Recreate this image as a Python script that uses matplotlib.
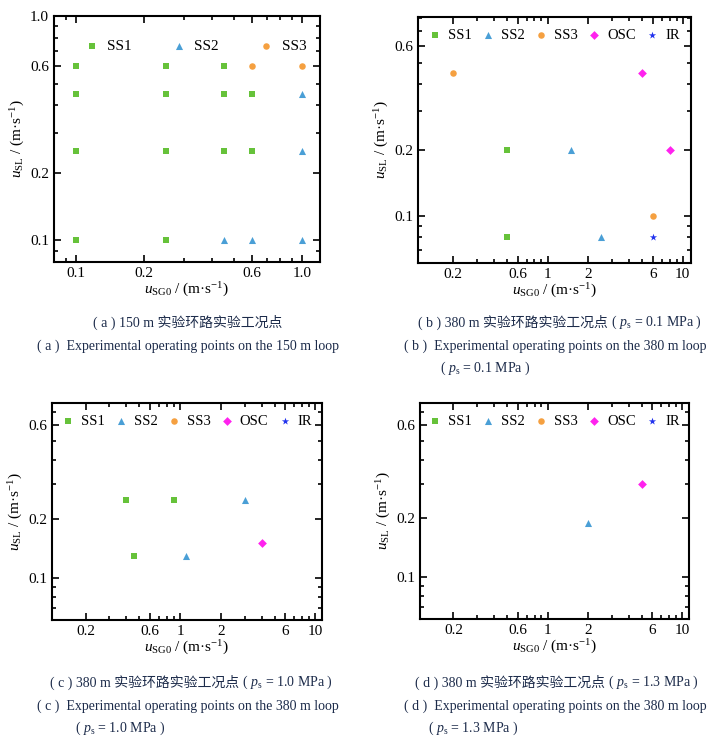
import matplotlib.pyplot as plt
from matplotlib.ticker import FixedLocator, FixedFormatter, LogLocator, NullFormatter
from matplotlib.transforms import offset_copy

plt.rcParams['font.family'] = ['Liberation Serif', 'Noto Sans CJK SC', 'DejaVu Sans']
plt.rcParams['mathtext.fontset'] = 'custom'
plt.rcParams['mathtext.rm'] = 'Liberation Serif'
plt.rcParams['mathtext.it'] = 'Liberation Serif:italic'

# marker styles per regime
styles = {
    'SS1': dict(marker='s', color='#66c23a', s=22),
    'SS2': dict(marker='^', color='#4a9fd6', s=26),
    'SS3': dict(marker='o', color='#f5a040', s=22),
    'OSC': dict(marker='D', color='#ff22ee', s=20),
    'IR': dict(marker='*', color='#2233ee', s=30),
}

# (a) 150 m loop
a_data = {
    'SS1': ([0.1, 0.1, 0.1, 0.1, 0.25, 0.25, 0.25, 0.25, 0.45, 0.45, 0.45, 0.6, 0.6],
            [0.6, 0.45, 0.25, 0.1, 0.6, 0.45, 0.25, 0.1, 0.6, 0.45, 0.25, 0.45, 0.25]),
    'SS2': ([0.45, 0.6, 1.0, 1.0, 1.0], [0.1, 0.1, 0.1, 0.25, 0.45]),
    'SS3': ([0.6, 1.0], [0.6, 0.6]),
}
# (b) 380 m, 0.1 MPa
b_data = {
    'SS1': ([0.5, 0.5], [0.2, 0.08]),
    'SS2': ([1.5, 2.5], [0.2, 0.08]),
    'SS3': ([0.2, 6.0], [0.45, 0.1]),
    'OSC': ([5.0, 8.0], [0.45, 0.2]),
    'IR': ([6.0], [0.08]),
}
# (c) 380 m, 1.0 MPa
c_data = {
    'SS1': ([0.4, 0.9, 0.46], [0.25, 0.25, 0.13]),
    'SS2': ([3.0, 1.1], [0.25, 0.13]),
    'SS3': ([], []),
    'OSC': ([4.0], [0.15]),
    'IR': ([], []),
}
# (d) 380 m, 1.3 MPa
d_data = {
    'SS1': ([], []),
    'SS2': ([2.0], [0.19]),
    'SS3': ([], []),
    'OSC': ([5.0], [0.30]),
    'IR': ([], []),
}

ticks_a = [0.1, 0.2, 0.6, 1.0]
labels_a = ['0.1', '0.2', '0.6', '1.0']
xticks_b = [0.2, 0.6, 1, 2, 6, 10]
xlabels_b = ['0.2', '0.6', '1', '2', '6', '10']
yticks_b = [0.1, 0.2, 0.6]
ylabels_b = ['0.1', '0.2', '0.6']

W, H = 717, 741
fig = plt.figure(figsize=(W / 100, H / 100), dpi=100)


def make_ax(l, r, t, b):
    return fig.add_axes([l / W, 1 - b / H, (r - l) / W, (b - t) / H])


def draw(ax, data, xlim, ylim, xt, xl, yt, yl):
    for name, (xs, ys) in data.items():
        st = styles[name]
        ax.scatter(xs, ys, marker=st['marker'], color=st['color'], s=st['s'],
                   linewidths=0, label=name)
    ax.set_xscale('log')
    ax.set_yscale('log')
    ax.set_xlim(*xlim)
    ax.set_ylim(*ylim)
    for axis, t, lab in ((ax.xaxis, xt, xl), (ax.yaxis, yt, yl)):
        axis.set_major_locator(FixedLocator(t))
        axis.set_major_formatter(FixedFormatter(lab))
        axis.set_minor_locator(LogLocator(subs=range(1, 10)))
        axis.set_minor_formatter(NullFormatter())
    ax.tick_params(which='both', direction='in', top=True, right=True, labelsize=11, width=1.2)
    ax.tick_params(which='major', length=5)
    ax.tick_params(which='minor', length=3)
    for sp in ax.spines.values():
        sp.set_linewidth(1.5)
    ax.set_xlabel(r'$u_{\mathrm{SG0}}$ / (m·s$^{-1}$)', fontsize=11, labelpad=1)
    ax.set_ylabel(r'$u_{\mathrm{SL}}$ / (m·s$^{-1}$)', fontsize=11, labelpad=2)


ax_a = make_ax(54, 320, 16, 262)
draw(ax_a, a_data, (0.08, 1.2), (0.08, 1.0), ticks_a, labels_a, ticks_a, labels_a)
ax_a.legend(loc='upper right', ncol=3, frameon=False, fontsize=11,
            handletextpad=0.4, columnspacing=2.5, bbox_to_anchor=(1.0, 0.96), handlelength=1.2)

ax_b = make_ax(418, 691, 17, 263)
draw(ax_b, b_data, (0.11, 11.5), (0.061, 0.81), xticks_b, xlabels_b, yticks_b, ylabels_b)
ax_c = make_ax(52, 322, 403, 620)
draw(ax_c, c_data, (0.113, 11.2), (0.061, 0.78), xticks_b, xlabels_b, yticks_b, ylabels_b)
ax_d = make_ax(420, 689, 403, 619)
draw(ax_d, d_data, (0.113, 11.2), (0.061, 0.78), xticks_b, xlabels_b, yticks_b, ylabels_b)
for ax in (ax_b, ax_c, ax_d):
    ax.legend(loc='upper center', ncol=5, frameon=False, fontsize=10.5,
              handletextpad=0.5, columnspacing=0.7, borderaxespad=0.4,
              handlelength=0.8)

cap = dict(fontsize=10, color='#1c2b4a', va='center')
fig.canvas.draw()
renderer = fig.canvas.get_renderer()


def caption(x, y, cn, tail):
    # Chinese part as plain text, pressure part with mathtext right after it
    t = fig.text(x / W, 1 - y / H, cn, ha='left', **cap)
    w = t.get_window_extent(renderer).width
    tr = offset_copy(fig.transFigure, fig=fig, x=w, y=0, units='dots')
    fig.text(x / W, 1 - y / H, tail, ha='left', transform=tr, **cap)


fig.text(188 / W, 1 - 322 / H, '( a ) 150 m 实验环路实验工况点', ha='center', **cap)
fig.text(188 / W, 1 - 346 / H, '( a )  Experimental operating points on the 150 m loop', ha='center', **cap)
caption(418, 322, '( b ) 380 m 实验环路实验工况点', r' ( $p_{\mathrm{s}}$ = 0.1 MPa )')
fig.text(555 / W, 1 - 346 / H, '( b )  Experimental operating points on the 380 m loop', ha='center', **cap)
fig.text(440 / W, 1 - 368 / H, r'( $p_{\mathrm{s}}$ = 0.1 MPa )', ha='left', **cap)
caption(50, 682, '( c ) 380 m 实验环路实验工况点', r' ( $p_{\mathrm{s}}$ = 1.0 MPa )')
fig.text(188 / W, 1 - 706 / H, '( c )  Experimental operating points on the 380 m loop', ha='center', **cap)
fig.text(75 / W, 1 - 728 / H, r'( $p_{\mathrm{s}}$ = 1.0 MPa )', ha='left', **cap)
caption(415, 682, '( d ) 380 m 实验环路实验工况点', r' ( $p_{\mathrm{s}}$ = 1.3 MPa )')
fig.text(555 / W, 1 - 706 / H, '( d )  Experimental operating points on the 380 m loop', ha='center', **cap)
fig.text(428 / W, 1 - 728 / H, r'( $p_{\mathrm{s}}$ = 1.3 MPa )', ha='left', **cap)

fig.savefig('out.png', dpi=100)
